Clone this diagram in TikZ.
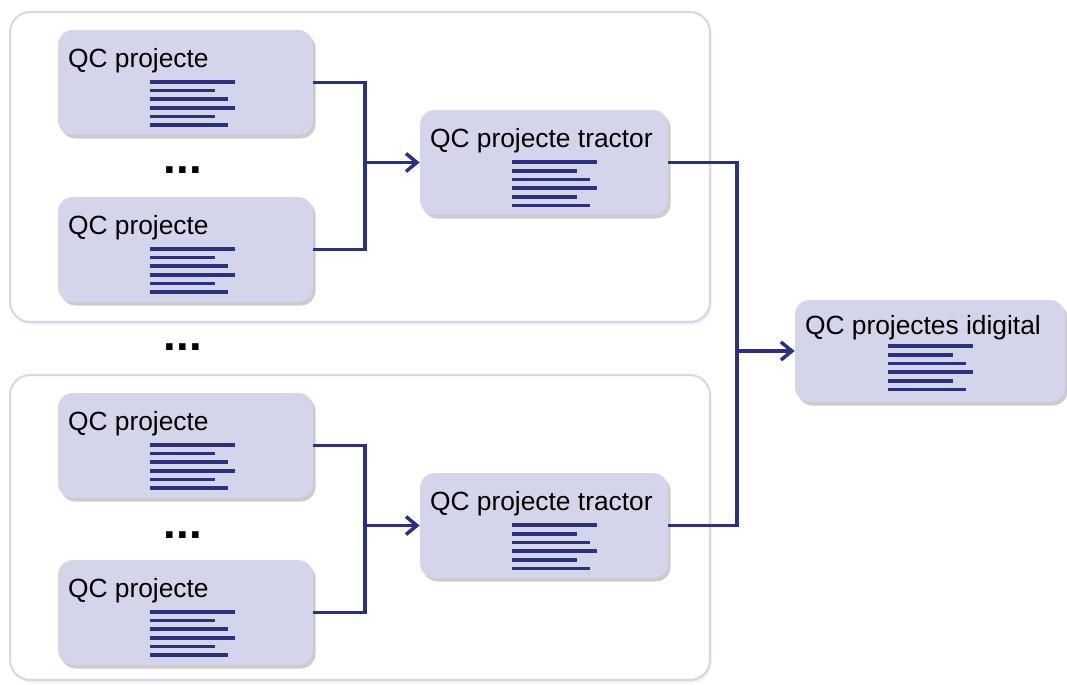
\documentclass[tikz,border=0pt]{standalone}
\usepackage{fontspec}
\setmainfont{Liberation Sans}
\usetikzlibrary{arrows.meta,shadows}
\definecolor{boxfill}{HTML}{D4D4EA}
\definecolor{navy}{HTML}{2C3080}
\definecolor{grouprim}{HTML}{D6D6E4}
\tikzset{
	group/.style={draw=grouprim, line width=0.04cm, rounded corners=0.4cm, fill=white, minimum width=14cm, drop shadow={shadow xshift=1pt, shadow yshift=-1.5pt, opacity=0.12}},
	leaf/.style={fill=boxfill, rounded corners=0.3cm, minimum height=2.1cm, inner sep=0pt, drop shadow={shadow xshift=1.5pt, shadow yshift=-2pt, opacity=0.4}},
	title/.style={inner sep=0pt, font=\fontsize{15}{18}\selectfont},
	docline/.style={navy, line width=0.075cm},
	conn/.style={navy, line width=0.07cm},
	dots/.style={font=\fontsize{26}{30}\selectfont\bfseries, inner sep=0pt},
	doclines/.pic={\foreach \l [count=\i from 0] in {85,65,78,85,65,78} \draw[docline] (0,{\i*8.7}) -- ++(\l,0);}
}
\begin{document}
\begin{tikzpicture}[x=0.02cm, y=-0.02cm]
		\useasboundingbox (0,0) rectangle (1067,684);
		\node[group, minimum height=6.2cm] (g1) at (360,167) {};
		\node[group, minimum height=6.1cm] (g2) at (360,527.5) {};
		\foreach \n/\x/\y in {p1/185.5/82.5, p2/185.5/249.5, p3/185.5/445.5, p4/185.5/612.5} {
			\node[leaf, minimum width=5.1cm, label={[title, anchor=north west, xshift=0.2cm, yshift=-0.36cm]north west:QC projecte}] (\n) at (\x,\y) {};
			\pic at (\x-35.5,\y-0.8) {doclines};
		}
		\foreach \n/\x/\y in {t1/544/162.5, t2/544/525.5} {
			\node[leaf, minimum width=4.96cm, label={[title, anchor=north west, xshift=0.2cm, yshift=-0.36cm]north west:QC projecte tractor}] (\n) at (\x,\y) {};
			\pic at (\x-32,\y-0.5) {doclines};
		}
		\node[leaf, minimum width=5.4cm, minimum height=2.04cm, label={[title, anchor=north west, xshift=0.2cm, yshift=-0.3cm]north west:QC projectes idigital}] (f) at (930,351) {};
		\pic at (888,346) {doclines};
		\node[dots] (d1) at (183,170) {...};
		\node[dots] (d2) at (183,347) {...};
		\node[dots] (d3) at (183,535) {...};
		\coordinate (j1) at (365,162.5);
		\coordinate (j2) at (365,525.5);
		\coordinate (j3) at (737,351);
		\draw[conn] (p1.east) -| (j1) |- (p2.east);
		\draw[conn, -{Straight Barb[length=0.22cm, width=0.36cm]}] (j1) -- (t1.west);
		\draw[conn] (p3.east) -| (j2) |- (p4.east);
		\draw[conn, -{Straight Barb[length=0.22cm, width=0.36cm]}] (j2) -- (t2.west);
		\draw[conn] (t1.east) -| (j3) |- (t2.east);
		\draw[conn, -{Straight Barb[length=0.22cm, width=0.36cm]}] (j3) -- (f.west);
	\end{tikzpicture}
\end{document}
